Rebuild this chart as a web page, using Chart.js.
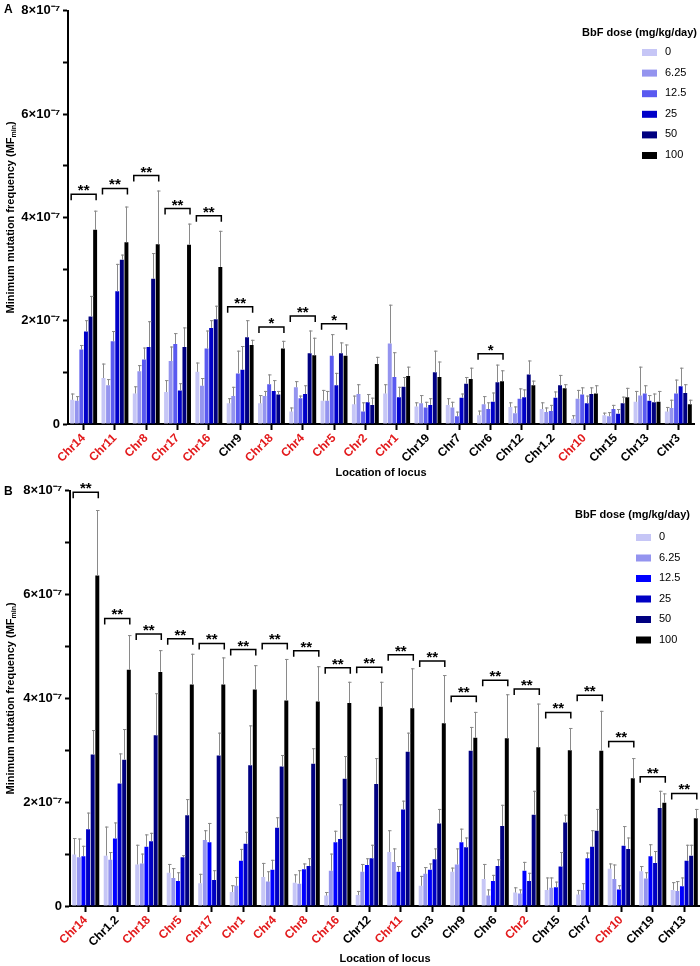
<!DOCTYPE html>
<html>
<head>
<meta charset="utf-8">
<script src="https://cdn.jsdelivr.net/npm/chart.js@4.4.0/dist/chart.umd.min.js"></script>
<style>
  body { margin: 0; background: #fff; }
  .panel { position: absolute; left: 0; width: 700px; }
  #wrapA { top: 0; height: 480px; }
  #wrapB { top: 480px; height: 486px; }
</style>
</head>
<body>
<div class="panel" id="wrapA"><canvas id="chartA" width="700" height="480"></canvas></div>
<div class="panel" id="wrapB"><canvas id="chartB" width="700" height="486"></canvas></div>
<script>
// values are in units of 1e-7 (MFmin)
var doseLabels = ['0', '6.25', '12.5', '25', '50', '100'];
var yTicks = [0, 2, 4, 6, 8];

// ---- panel A ----
var catsA = ['Chr14', 'Chr11', 'Chr8', 'Chr17', 'Chr16', 'Chr9', 'Chr18', 'Chr4', 'Chr5', 'Chr2',
             'Chr1', 'Chr19', 'Chr7', 'Chr6', 'Chr12', 'Chr1.2', 'Chr10', 'Chr15', 'Chr13', 'Chr3'];
var redA = ['Chr14', 'Chr11', 'Chr8', 'Chr17', 'Chr16', 'Chr18', 'Chr4', 'Chr5', 'Chr2', 'Chr1', 'Chr10'];

var a0    = [0.47, 0.89, 0.59, 0.62, 1.01, 0.40, 0.40, 0.24, 0.45, 0.38, 0.59, 0.34, 0.37, 0.17, 0.33, 0.29, 0.10, 0.17, 0.43, 0.24];
var a6    = [0.45, 0.75, 1.02, 1.22, 0.74, 0.54, 0.54, 0.71, 0.45, 0.58, 1.56, 0.40, 0.32, 0.38, 0.21, 0.23, 0.49, 0.15, 0.55, 0.31];
var a12   = [1.44, 1.60, 1.25, 1.55, 1.46, 0.98, 0.77, 0.50, 1.32, 0.24, 0.91, 0.32, 0.15, 0.29, 0.49, 0.25, 0.57, 0.29, 0.59, 0.59];
var a25   = [1.79, 2.57, 1.49, 0.65, 1.86, 1.05, 0.64, 0.58, 0.75, 0.42, 0.52, 0.37, 0.51, 0.43, 0.52, 0.51, 0.40, 0.20, 0.45, 0.73];
var a50   = [2.08, 3.18, 2.81, 1.49, 2.03, 1.68, 0.57, 1.37, 1.37, 0.37, 0.72, 1.00, 0.78, 0.81, 0.96, 0.75, 0.58, 0.40, 0.42, 0.60];
var a100  = [3.76, 3.52, 3.48, 3.47, 3.04, 1.53, 1.46, 1.33, 1.32, 1.16, 0.93, 0.91, 0.87, 0.83, 0.75, 0.69, 0.59, 0.52, 0.43, 0.38];

var aErr0   = [0.12, 0.28, 0.14, 0.23, 0.18, 0.10, 0.16, 0.08, 0.21, 0.17, 0.18, 0.08, 0.13, 0.09, 0.09, 0.13, 0.07, 0.05, 0.21, 0.09];
var aErr6   = [0.09, 0.12, 0.12, 0.28, 0.15, 0.18, 0.10, 0.12, 0.19, 0.19, 0.75, 0.16, 0.11, 0.16, 0.13, 0.09, 0.17, 0.08, 0.56, 0.16];
var aErr12  = [0.09, 0.20, 0.23, 0.21, 0.35, 0.44, 0.19, 0.05, 0.42, 0.18, 0.48, 0.11, 0.09, 0.13, 0.20, 0.12, 0.14, 0.08, 0.16, 0.27];
var aErr25  = [0.22, 0.53, 0.50, 0.14, 0.15, 0.46, 0.21, 0.17, 0.24, 0.16, 0.20, 0.13, 0.08, 0.18, 0.15, 0.12, 0.15, 0.09, 0.11, 0.36];
var aErr50  = [0.40, 0.10, 0.50, 0.38, 0.26, 0.33, 0.07, 0.44, 0.21, 0.14, 0.19, 0.42, 0.13, 0.34, 0.27, 0.20, 0.13, 0.13, 0.17, 0.17];
var aErr100 = [0.37, 0.69, 1.04, 0.41, 0.70, 0.10, 0.15, 0.34, 0.22, 0.14, 0.18, 0.30, 0.22, 0.21, 0.09, 0.08, 0.16, 0.18, 0.21, 0.09];

var aBracket = [4.45, 4.56, 4.81, 4.17, 4.03, 2.27, 1.88, 2.09, 1.94, null, null, null, null, 1.36, null, null, null, null, null, null];
var aStars   = ['**', '**', '**', '**', '**', '**', '*', '**', '*', '', '', '', '', '*', '', '', '', '', '', ''];

// ---- panel B ----
var catsB = ['Chr14', 'Chr1.2', 'Chr18', 'Chr5', 'Chr17', 'Chr1', 'Chr4', 'Chr8', 'Chr16', 'Chr12',
             'Chr11', 'Chr3', 'Chr9', 'Chr6', 'Chr2', 'Chr15', 'Chr7', 'Chr10', 'Chr19', 'Chr13'];
var redB = ['Chr14', 'Chr18', 'Chr5', 'Chr17', 'Chr1', 'Chr4', 'Chr8', 'Chr16', 'Chr11', 'Chr2', 'Chr10'];

var b0    = [0.99, 0.97, 0.80, 0.64, 0.44, 0.27, 0.56, 0.45, 0.20, 0.21, 1.04, 0.39, 0.66, 0.52, 0.26, 0.31, 0.22, 0.72, 0.67, 0.31];
var b6    = [0.94, 0.89, 0.82, 0.54, 1.27, 0.39, 0.47, 0.43, 0.68, 0.66, 0.85, 0.62, 0.80, 0.20, 0.24, 0.35, 0.31, 0.52, 0.53, 0.29];
var b12   = [0.96, 1.30, 1.14, 0.48, 1.23, 0.87, 0.70, 0.71, 1.23, 0.79, 0.66, 0.70, 1.23, 0.48, 0.68, 0.36, 0.92, 0.32, 0.96, 0.38];
var b25   = [1.48, 2.36, 1.25, 0.94, 0.50, 1.20, 1.51, 0.77, 1.29, 0.92, 1.86, 0.90, 1.13, 0.77, 0.48, 0.76, 1.14, 1.16, 0.83, 0.87];
var b50   = [2.92, 2.82, 3.29, 1.75, 2.90, 2.71, 2.69, 2.74, 2.45, 2.35, 2.97, 1.59, 2.99, 1.54, 1.76, 1.61, 1.45, 1.10, 1.89, 0.97];
var b100  = [6.37, 4.55, 4.51, 4.27, 4.27, 4.17, 3.96, 3.94, 3.91, 3.84, 3.81, 3.52, 3.24, 3.23, 3.06, 3.00, 2.99, 2.46, 1.99, 1.69];

var bErr0   = [0.32, 0.56, 0.38, 0.17, 0.18, 0.13, 0.27, 0.16, 0.07, 0.08, 0.42, 0.19, 0.08, 0.29, 0.10, 0.24, 0.09, 0.10, 0.10, 0.15];
var bErr6   = [0.36, 0.15, 0.19, 0.19, 0.19, 0.17, 0.20, 0.26, 0.33, 0.15, 0.26, 0.13, 0.31, 0.12, 0.08, 0.20, 0.13, 0.28, 0.12, 0.19];
var bErr12  = [0.20, 0.31, 0.24, 0.17, 0.37, 0.23, 0.19, 0.11, 0.22, 0.13, 0.11, 0.12, 0.26, 0.12, 0.17, 0.11, 0.11, 0.08, 0.23, 0.17];
var bErr25  = [0.32, 0.58, 0.16, 0.04, 0.19, 0.23, 0.20, 0.15, 0.67, 0.26, 0.17, 0.21, 0.19, 0.13, 0.16, 0.28, 0.32, 0.38, 0.23, 0.31];
var bErr50  = [0.47, 0.59, 0.81, 0.31, 0.44, 0.77, 0.22, 0.30, 0.44, 0.50, 0.37, 0.28, 0.46, 0.41, 0.46, 0.15, 0.42, 0.22, 0.33, 0.21];
var bErr100 = [1.26, 0.67, 0.42, 0.59, 0.52, 0.47, 0.80, 0.68, 0.41, 0.48, 0.77, 0.93, 0.50, 0.85, 0.84, 0.43, 0.77, 0.39, 0.18, 0.18];

var bBracket = [7.97, 5.54, 5.24, 5.15, 5.06, 4.94, 5.06, 4.92, 4.59, 4.60, 4.84, 4.72, 4.04, 4.35, 4.18, 3.73, 4.06, 3.17, 2.49, 2.17];
var bStars   = ['**', '**', '**', '**', '**', '**', '**', '**', '**', '**', '**', '**', '**', '**', '**', '**', '**', '**', '**', '**'];

var colorsA = ['#c6c6f6', '#9494ef', '#5a5af0', '#0000c8', '#000080', '#000000'];
var colorsB = ['#c6c6f6', '#9494ef', '#0000ff', '#0000c4', '#000080', '#000000'];

var FONT = '"Liberation Sans", Arial, sans-serif';

// error bars, significance brackets, y title, legend and panel letter
var extras = {
  id: 'extras',
  afterDatasetsDraw: function(chart, args, opts) {
    var ctx = chart.ctx, y = chart.scales.y, area = chart.chartArea;
    ctx.save();
    // error bars (upper only)
    ctx.strokeStyle = '#8a8a8a';
    ctx.lineWidth = 1;
    chart.data.datasets.forEach(function(ds, i) {
      chart.getDatasetMeta(i).data.forEach(function(bar, j) {
        var top = y.getPixelForValue(ds.data[j] + ds.errors[j]);
        var x = Math.round(bar.x) + 0.5;
        ctx.beginPath();
        ctx.moveTo(x, bar.y);
        ctx.lineTo(x, top);
        ctx.moveTo(x - 1.5, top + 0.5);
        ctx.lineTo(x + 2, top + 0.5);
        ctx.stroke();
      });
    });
    // brackets
    var first = chart.getDatasetMeta(0).data, last = chart.getDatasetMeta(5).data;
    ctx.strokeStyle = '#000';
    ctx.fillStyle = '#000';
    ctx.lineWidth = 1.5;
    ctx.font = 'bold 15px ' + FONT;
    ctx.textAlign = 'center';
    ctx.textBaseline = 'alphabetic';
    opts.brackets.forEach(function(v, j) {
      if (v == null) return;
      var x1 = first[j].x - 1, x2 = last[j].x + 1, yb = y.getPixelForValue(v);
      ctx.beginPath();
      ctx.moveTo(x1, yb + 6);
      ctx.lineTo(x1, yb);
      ctx.lineTo(x2, yb);
      ctx.lineTo(x2, yb + 6);
      ctx.stroke();
      ctx.fillText(opts.stars[j], (x1 + x2) / 2, yb + 1);
    });
    // y axis title with subscript
    ctx.save();
    ctx.translate(opts.titleX, (area.top + area.bottom) / 2);
    ctx.rotate(-Math.PI / 2);
    ctx.textBaseline = 'middle';
    ctx.textAlign = 'left';
    var main = 'Minimum mutation frequency (MF';
    ctx.font = 'bold 11px ' + FONT;
    var w1 = ctx.measureText(main).width;
    ctx.font = 'bold 7px ' + FONT;
    var w2 = ctx.measureText('min').width;
    ctx.font = 'bold 11px ' + FONT;
    var w3 = ctx.measureText(')').width;
    var sx = -(w1 + w2 + w3) / 2;
    ctx.fillText(main, sx, 0);
    ctx.font = 'bold 7px ' + FONT;
    ctx.fillText('min', sx + w1, 3);
    ctx.font = 'bold 11px ' + FONT;
    ctx.fillText(')', sx + w1 + w2, 0);
    ctx.restore();
    // panel letter
    ctx.textAlign = 'left';
    ctx.textBaseline = 'middle';
    ctx.font = 'bold 12px ' + FONT;
    ctx.fillText(opts.letter, 4, opts.letterY);
    // legend
    var lg = opts.legend;
    ctx.textAlign = 'right';
    ctx.font = 'bold 11px ' + FONT;
    ctx.fillText('BbF dose (mg/kg/day)', lg.titleRight, lg.titleY);
    ctx.textAlign = 'left';
    ctx.font = '11px ' + FONT;
    chart.data.datasets.forEach(function(ds, i) {
      var ry = lg.rowY + i * lg.rowStep;
      ctx.fillStyle = ds.backgroundColor;
      ctx.fillRect(lg.boxX, ry - 3, 15, 7);
      ctx.fillStyle = '#000';
      ctx.fillText(ds.label, lg.boxX + 23, ry);
    });
    ctx.restore();
  }
};

function makeChart(id, cats, reds, series, errs, colors, cfg) {
  var datasets = series.map(function(d, i) {
    return {
      label: doseLabels[i],
      data: d,
      errors: errs[i],
      backgroundColor: colors[i],
      borderWidth: 0,
      categoryPercentage: 0.88,
      barPercentage: 0.86
    };
  });
  return new Chart(document.getElementById(id).getContext('2d'), {
    type: 'bar',
    data: { labels: cats, datasets: datasets },
    options: {
      responsive: false,
      animation: false,
      layout: { padding: { left: 0, top: cfg.padTop, right: cfg.padRight, bottom: 0 } },
      plugins: {
        legend: { display: false },
        tooltip: { enabled: false },
        extras: cfg.extras
      },
      scales: {
        x: {
          grid: { offset: false, drawOnChartArea: false, tickLength: 6, tickColor: '#000', tickWidth: 2 },
          border: { color: '#000', width: 2 },
          ticks: {
            autoSkip: false,
            maxRotation: 45,
            minRotation: 45,
            padding: 1,
            font: { family: FONT, size: 12, weight: 'bold' },
            color: function(c) { return reds.indexOf(cats[c.index]) >= 0 ? '#e31a1c' : '#000'; }
          },
          title: {
            display: true,
            text: 'Location of locus',
            color: '#000',
            font: { family: FONT, size: 11, weight: 'bold' },
            padding: { top: 0, bottom: 0 }
          },
          afterFit: function(s) { s.height = cfg.xHeight; }
        },
        y: {
          min: 0,
          max: 8,
          ticks: {
            stepSize: 1,
            padding: 3,
            color: '#000',
            font: { family: FONT, size: 13, weight: 'bold' },
            callback: function(v) {
              if (yTicks.indexOf(v) < 0) return '';
              return v === 0 ? '0' : v + '\u00d710\u207b\u2077';
            }
          },
          grid: { drawOnChartArea: false, tickLength: 5, tickColor: '#000', tickWidth: 2 },
          border: { color: '#000', width: 2 },
          afterFit: function(s) { s.width = cfg.yWidth; }
        }
      }
    },
    plugins: [extras]
  });
}

makeChart('chartA', catsA, redA, [a0, a6, a12, a25, a50, a100],
  [aErr0, aErr6, aErr12, aErr25, aErr50, aErr100], colorsA, {
    padTop: 8, padRight: 6, xHeight: 56, yWidth: 68,
    extras: {
      brackets: aBracket, stars: aStars, titleX: 11, letter: 'A', letterY: 10,
      legend: { titleRight: 697, titleY: 33, boxX: 642, rowY: 52, rowStep: 20.6 }
    }
  });

makeChart('chartB', catsB, redB, [b0, b6, b12, b25, b50, b100],
  [bErr0, bErr6, bErr12, bErr25, bErr50, bErr100], colorsB, {
    padTop: 10, padRight: 0, xHeight: 60, yWidth: 70,
    extras: {
      brackets: bBracket, stars: bStars, titleX: 11, letter: 'B', letterY: 12,
      legend: { titleRight: 690, titleY: 35, boxX: 636, rowY: 57, rowStep: 20.5 }
    }
  });
</script>
</body>
</html>
